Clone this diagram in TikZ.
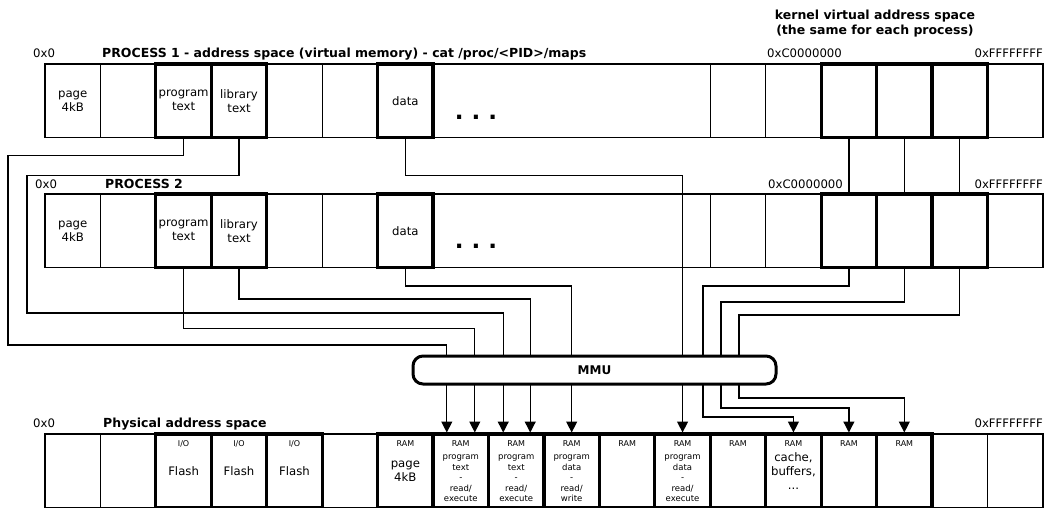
\documentclass[tikz,border=0pt]{standalone}
\usepackage{fontspec}
\setmainfont{DejaVu Sans}
\usetikzlibrary{arrows.meta}
\newcommand\ramgap{\rule{0pt}{20.5pt}}

\begin{document}
\begin{tikzpicture}[x=1pt,y=-1pt,
  cell/.style={draw,line width=1.3pt,inner sep=0pt,outer sep=0pt,
    minimum width=55.44pt,minimum height=73.5pt,anchor=north west,
    align=center,font=\fontsize{11.7}{14}\selectfont},
  hot/.style={cell,line width=3.2pt},
  fine/.style={font=\fontsize{8.5}{10.5}\selectfont},
  ramtag/.style={anchor=north,inner sep=0pt,yshift=-6.5pt,
    font=\fontsize{8}{9}\selectfont},
  ramcell/.style={hot,label={[ramtag]north:RAM}},
  iocell/.style={hot,label={[ramtag]north:I/O}},
  tag/.style={anchor=base west,inner sep=0pt,font=\fontsize{11.7}{14}\selectfont},
  title/.style={tag,font=\fontsize{12.5}{15}\selectfont\bfseries},
  dots/.style={anchor=base,inner sep=0pt,font=\fontsize{23}{23}\selectfont\bfseries},
  wire/.style={line width=1.3pt},
  map/.style={wire,-{Triangle[width=11pt,length=11pt]},shorten >=1.5pt},
  mmu/.style={draw,fill=white,line width=3pt,rounded corners=10pt,
    minimum width=363pt,minimum height=28pt,font=\fontsize{12}{14}\selectfont\bfseries}]
  \useasboundingbox (0,0) rectangle (1045,507);

  % process 1
  \foreach \i/\t in {0/{page\\4kB},1/{},4/{},5/{},12/{},13/{},17/{}}
    \node[cell] (p1c\i) at ({45+\i*55.44},64) {\t};
  \node[cell,minimum width=277.2pt] (p1c7) at ({45+7*55.44},64) {};
  \foreach \i/\t in {2/{program\\text},3/{library\\text},6/data,14/{},15/{},16/{}}
    \node[hot] (p1c\i) at ({45+\i*55.44},64) {\t};
  \node[dots] (p1dots) at (476,119.5) {.\ .\ .};
  \node[tag] (p1zero) at (33,57) {0x0};
  \node[title] (p1name) at (102,57)
    {PROCESS 1 - address space (virtual memory) - cat /proc/<PID>/maps};
  \node[tag] (p1kern) at (767,57) {0xC0000000};
  \node[tag,anchor=base east] (p1end) at (1043,57) {0xFFFFFFFF};
  \node[anchor=north,inner sep=0pt,align=center,
    font=\fontsize{12.5}{15.5}\selectfont\bfseries] (kernel) at (875,9.5)
    {kernel virtual address space\\(the same for each process)};

  % process 2
  \foreach \i/\t in {0/{page\\4kB},1/{},4/{},5/{},12/{},13/{},17/{}}
    \node[cell] (p2c\i) at ({45+\i*55.44},194) {\t};
  \node[cell,minimum width=277.2pt] (p2c7) at ({45+7*55.44},194) {};
  \foreach \i/\t in {2/{program\\text},3/{library\\text},6/data,14/{},15/{},16/{}}
    \node[hot] (p2c\i) at ({45+\i*55.44},194) {\t};
  \node[dots] (p2dots) at (476,248.5) {.\ .\ .};
  \node[tag] (p2zero) at (35,188) {0x0};
  \node[title] (p2name) at (105,188) {PROCESS 2};
  \node[tag] (p2kern) at (768,188) {0xC0000000};
  \node[tag,anchor=base east] (p2end) at (1043,188) {0xFFFFFFFF};

  % physical memory
  \foreach \i in {0,1,5,16,17}
    \node[cell] (ph\i) at ({45+\i*55.44},434) {};
  \foreach \i in {2,3,4}
    \node[iocell] (ph\i) at ({45+\i*55.44},434) {Flash};
  \foreach \i/\t in {6/{page\\4kB},10/{},12/{},13/{cache,\\buffers,\\...},14/{},15/{}}
    \node[ramcell] (ph\i) at ({45+\i*55.44},434) {\t};
  \foreach \i/\t in {7/{program\\text\\-\\read/\\execute},8/{program\\text\\-\\read/\\execute},
                     9/{program\\data\\-\\read/\\write},11/{program\\data\\-\\read/\\execute}}
    \node[ramcell,fine] (ph\i) at ({45+\i*55.44},434) {\ramgap\t};
  \node[tag] (phzero) at (33,427) {0x0};
  \node[title] (phname) at (103,427) {Physical address space};
  \node[tag,anchor=base east] (phend) at (1043,427) {0xFFFFFFFF};

  % kernel pages shared
  \foreach \i in {14,15,16}
    \draw[wire] (p1c\i.south) -- (p2c\i.north);

  % mappings
  \draw[map] (p1c2.south) -- ++(0,18) -| (8,345) -| ([xshift=-14pt]ph7.north);
  \draw[map] (p1c3.south) -- ++(0,38) -| (27,313) -| ([xshift=-13pt]ph8.north);
  \draw[map] (p2c2.south) -- ++(0,61) -| ([xshift=14pt]ph7.north);
  \draw[map] (p2c3.south) -- ++(0,31.5) -| ([xshift=14pt]ph8.north);
  \draw[map] (p1c6.south) -- ++(0,38) -| (ph11.north);
  \draw[map] (p2c6.south) -- ++(0,18.5) -| (ph9.north);
  \draw[map] (p2c14.south) -- ++(0,18.5) -| (703,417) -| (ph13.north);
  \draw[map] (p2c15.south) -- ++(0,34.5) -| (721,408) -| (ph14.north);
  \draw[map] (p2c16.south) -- ++(0,47.5) -| (739,398) -| (ph15.north);

  \node[mmu] (mmu) at (594.5,370) {MMU};
\end{tikzpicture}
\end{document}
